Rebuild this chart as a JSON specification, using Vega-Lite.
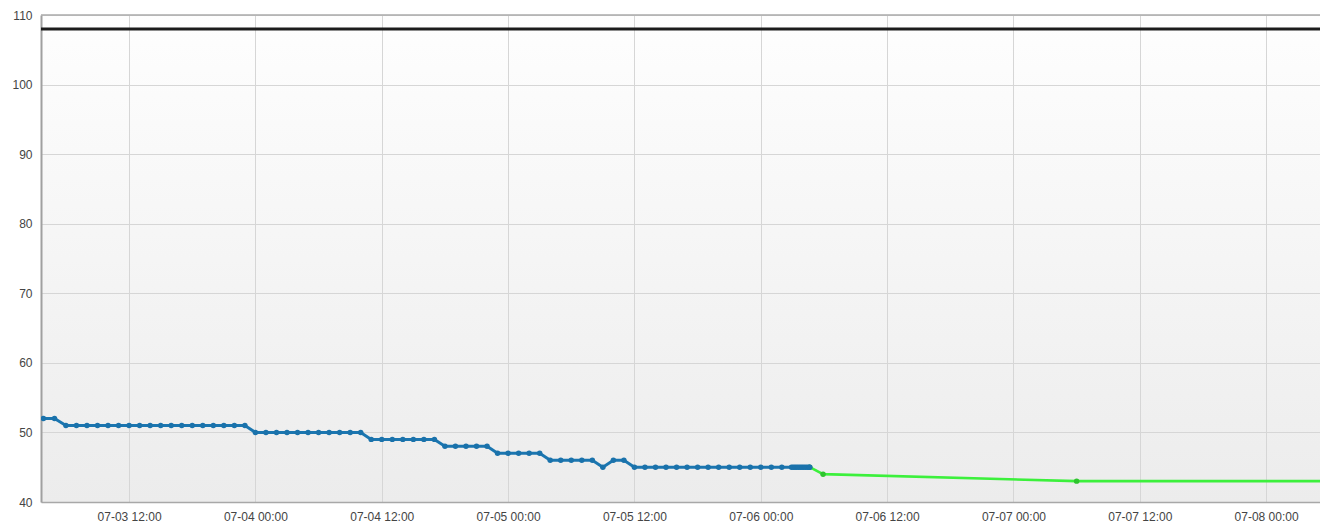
{
  "$schema": "https://vega.github.io/schema/vega-lite/v6.json",
  "width": 1279,
  "height": 487,
  "autosize": {"type": "none"},
  "padding": {"left": 41, "top": 15, "right": 0, "bottom": 21},
  "background": "#ffffff",
  "config": {
    "view": {
      "stroke": null,
      "fill": {"gradient": "linear", "x1": 0, "y1": 0, "x2": 0, "y2": 1, "stops": [{"offset": 0, "color": "#fefefe"}, {"offset": 1, "color": "#ececec"}]}
    },
    "axis": {"labelFont": "Liberation Sans", "labelFontSize": 12, "labelColor": "#444444", "ticks": false, "domain": true, "domainColor": "#a0a0a0", "domainWidth": 2, "gridColor": "#d6d6d6", "gridWidth": 1, "title": null}
  },
  "datasets": {
    "actual": [
      {"t": "2024-07-03T03:52", "v": 52}, {"t": "2024-07-03T04:55", "v": 52},
      {"t": "2024-07-03T06:00", "v": 51}, {"t": "2024-07-03T07:00", "v": 51}, {"t": "2024-07-03T08:00", "v": 51}, {"t": "2024-07-03T09:00", "v": 51}, {"t": "2024-07-03T10:00", "v": 51}, {"t": "2024-07-03T11:00", "v": 51}, {"t": "2024-07-03T12:00", "v": 51}, {"t": "2024-07-03T13:00", "v": 51}, {"t": "2024-07-03T14:00", "v": 51}, {"t": "2024-07-03T15:00", "v": 51}, {"t": "2024-07-03T16:00", "v": 51}, {"t": "2024-07-03T17:00", "v": 51}, {"t": "2024-07-03T18:00", "v": 51}, {"t": "2024-07-03T19:00", "v": 51}, {"t": "2024-07-03T20:00", "v": 51}, {"t": "2024-07-03T21:00", "v": 51}, {"t": "2024-07-03T22:00", "v": 51}, {"t": "2024-07-03T23:00", "v": 51},
      {"t": "2024-07-04T00:00", "v": 50}, {"t": "2024-07-04T01:00", "v": 50}, {"t": "2024-07-04T02:00", "v": 50}, {"t": "2024-07-04T03:00", "v": 50}, {"t": "2024-07-04T04:00", "v": 50}, {"t": "2024-07-04T05:00", "v": 50}, {"t": "2024-07-04T06:00", "v": 50}, {"t": "2024-07-04T07:00", "v": 50}, {"t": "2024-07-04T08:00", "v": 50}, {"t": "2024-07-04T09:00", "v": 50}, {"t": "2024-07-04T10:00", "v": 50},
      {"t": "2024-07-04T11:00", "v": 49}, {"t": "2024-07-04T12:00", "v": 49}, {"t": "2024-07-04T13:00", "v": 49}, {"t": "2024-07-04T14:00", "v": 49}, {"t": "2024-07-04T15:00", "v": 49}, {"t": "2024-07-04T16:00", "v": 49}, {"t": "2024-07-04T17:00", "v": 49},
      {"t": "2024-07-04T18:00", "v": 48}, {"t": "2024-07-04T19:00", "v": 48}, {"t": "2024-07-04T20:00", "v": 48}, {"t": "2024-07-04T21:00", "v": 48}, {"t": "2024-07-04T22:00", "v": 48},
      {"t": "2024-07-04T23:00", "v": 47}, {"t": "2024-07-05T00:00", "v": 47}, {"t": "2024-07-05T01:00", "v": 47}, {"t": "2024-07-05T02:00", "v": 47}, {"t": "2024-07-05T03:00", "v": 47},
      {"t": "2024-07-05T04:00", "v": 46}, {"t": "2024-07-05T05:00", "v": 46}, {"t": "2024-07-05T06:00", "v": 46}, {"t": "2024-07-05T07:00", "v": 46}, {"t": "2024-07-05T08:00", "v": 46},
      {"t": "2024-07-05T09:00", "v": 45},
      {"t": "2024-07-05T10:00", "v": 46}, {"t": "2024-07-05T11:00", "v": 46},
      {"t": "2024-07-05T12:00", "v": 45}, {"t": "2024-07-05T13:00", "v": 45}, {"t": "2024-07-05T14:00", "v": 45}, {"t": "2024-07-05T15:00", "v": 45}, {"t": "2024-07-05T16:00", "v": 45}, {"t": "2024-07-05T17:00", "v": 45}, {"t": "2024-07-05T18:00", "v": 45}, {"t": "2024-07-05T19:00", "v": 45}, {"t": "2024-07-05T20:00", "v": 45}, {"t": "2024-07-05T21:00", "v": 45}, {"t": "2024-07-05T22:00", "v": 45}, {"t": "2024-07-05T23:00", "v": 45},
      {"t": "2024-07-06T00:00", "v": 45}, {"t": "2024-07-06T01:00", "v": 45}, {"t": "2024-07-06T02:00", "v": 45},
      {"t": "2024-07-06T02:55", "v": 45}, {"t": "2024-07-06T03:05", "v": 45}, {"t": "2024-07-06T03:15", "v": 45}, {"t": "2024-07-06T03:25", "v": 45}, {"t": "2024-07-06T03:35", "v": 45}, {"t": "2024-07-06T03:45", "v": 45}, {"t": "2024-07-06T03:55", "v": 45}, {"t": "2024-07-06T04:05", "v": 45}, {"t": "2024-07-06T04:15", "v": 45}, {"t": "2024-07-06T04:25", "v": 45}, {"t": "2024-07-06T04:35", "v": 45}, {"t": "2024-07-06T04:39", "v": 45}
    ],
    "forecast": [
      {"t": "2024-07-06T04:39", "v": 45},
      {"t": "2024-07-06T05:55", "v": 44},
      {"t": "2024-07-07T06:00", "v": 43},
      {"t": "2024-07-08T06:00", "v": 43}
    ],
    "limit": [{"v": 108}],
    "frame": [{"v": 110}]
  },
  "encoding": {
    "x": {
      "field": "t", "type": "temporal",
      "scale": {"domain": [{"year": 2024, "month": 7, "date": 3, "hours": 3, "minutes": 38}, {"year": 2024, "month": 7, "date": 8, "hours": 5, "minutes": 7}]},
      "axis": {
        "format": "%m-%d %H:%M", "labelPadding": 9, "grid": true, "labelFlush": false, "domainWidth": 1.5, "domainColor": "#a8a8a8",
        "values": [
          {"year": 2024, "month": 7, "date": 3, "hours": 12},
          {"year": 2024, "month": 7, "date": 4, "hours": 0},
          {"year": 2024, "month": 7, "date": 4, "hours": 12},
          {"year": 2024, "month": 7, "date": 5, "hours": 0},
          {"year": 2024, "month": 7, "date": 5, "hours": 12},
          {"year": 2024, "month": 7, "date": 6, "hours": 0},
          {"year": 2024, "month": 7, "date": 6, "hours": 12},
          {"year": 2024, "month": 7, "date": 7, "hours": 0},
          {"year": 2024, "month": 7, "date": 7, "hours": 12},
          {"year": 2024, "month": 7, "date": 8, "hours": 0}
        ]
      }
    },
    "y": {
      "field": "v", "type": "quantitative",
      "scale": {"domain": [40, 110], "nice": false, "zero": false},
      "axis": {"values": [40, 50, 60, 70, 80, 90, 100, 110], "labelPadding": 9, "grid": true}
    }
  },
  "layer": [
    {
      "data": {"name": "frame"},
      "mark": {"type": "rule", "color": "#aaaaaa", "strokeWidth": 1.5},
      "encoding": {"x": null, "y": {"field": "v", "type": "quantitative"}}
    },
    {
      "data": {"name": "limit"},
      "mark": {"type": "rule", "color": "#1c1c1c", "strokeWidth": 3},
      "encoding": {"x": null, "y": {"field": "v", "type": "quantitative"}}
    },
    {
      "data": {"name": "forecast"},
      "mark": {"type": "line", "color": "#3cf03c", "strokeWidth": 2.6, "clip": true, "point": {"filled": true, "size": 30, "color": "#2ec42e"}}
    },
    {
      "data": {"name": "actual"},
      "mark": {"type": "line", "color": "#1b76b0", "strokeWidth": 3, "clip": true, "point": {"filled": true, "size": 30, "color": "#1a72ab"}}
    }
  ]
}
